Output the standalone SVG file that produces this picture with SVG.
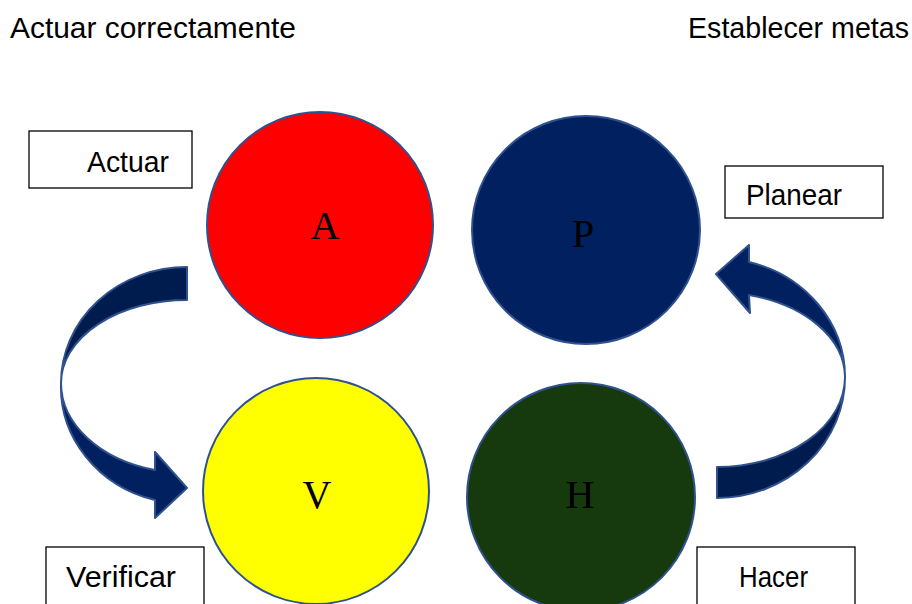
<svg xmlns="http://www.w3.org/2000/svg" width="912" height="604" viewBox="0 0 912 604">
<style>
.t{font-family:"Liberation Sans",Arial,sans-serif;font-size:29px;fill:#000}
.box{fill:#fff;stroke:#000;stroke-width:1.3}
.c{stroke:#2F528F;stroke-width:2}
.l{font-family:"Liberation Serif","Times New Roman",serif;font-size:40px;fill:#000;text-anchor:middle}
.a1{fill:#001C4F;stroke:#2F528F;stroke-width:2;stroke-linejoin:round}
.a2{fill:#002060;stroke:#2F528F;stroke-width:2;stroke-linejoin:round}
</style>
<rect width="912" height="604" fill="#fff"/>
<g id="title-left"><text class="t" x="10" y="38" textLength="286" lengthAdjust="spacingAndGlyphs">Actuar correctamente</text></g>
<g id="title-right"><text class="t" x="688" y="38" textLength="221" lengthAdjust="spacingAndGlyphs">Establecer metas</text></g>
<g id="connectors">
<path class="a1" d="M187,267 A126,116 0 0 0 61,383 A126,83 0 0 1 187,300 Z"/>
<path class="a2" d="M61,383 A126,117 0 0 0 155,500 L155,518 L187,488 L155,452 L155,470 A126,90 0 0 1 61,383 Z"/>
<path class="a1" d="M717,498 A128,121 0 0 0 845,377 A128,90 0 0 1 717,467 Z"/>
<path class="a2" d="M845,377 A128,119 0 0 0 749,262 L749,245 L716,274 L750,313 L749,295 A128,85 0 0 1 845,377 Z"/>
</g>
<g id="node-A"><circle class="c" cx="320" cy="225" r="113" fill="#FF0000"/><text class="l" x="325" y="239">A</text></g>
<g id="node-P"><circle class="c" cx="586" cy="230" r="114" fill="#002060"/><text class="l" x="583" y="247">P</text></g>
<g id="node-V"><circle class="c" cx="316" cy="491" r="113" fill="#FFFF00"/><text class="l" x="317" y="508">V</text></g>
<g id="node-H"><circle class="c" cx="581" cy="497" r="114" fill="#17390E"/><text class="l" x="580" y="508">H</text></g>
<g id="box-actuar"><rect class="box" x="29" y="131" width="163" height="57"/><text class="t" x="87" y="172" textLength="82" lengthAdjust="spacingAndGlyphs">Actuar</text></g>
<g id="box-planear"><rect class="box" x="725" y="166" width="158" height="52"/><text class="t" x="746" y="205" textLength="96" lengthAdjust="spacingAndGlyphs">Planear</text></g>
<g id="box-verificar"><rect class="box" x="46" y="547" width="158" height="65"/><text class="t" x="66" y="587" textLength="110" lengthAdjust="spacingAndGlyphs">Verificar</text></g>
<g id="box-hacer"><rect class="box" x="697" y="547" width="158" height="65"/><text class="t" x="739" y="587" textLength="69" lengthAdjust="spacingAndGlyphs">Hacer</text></g>
</svg>
